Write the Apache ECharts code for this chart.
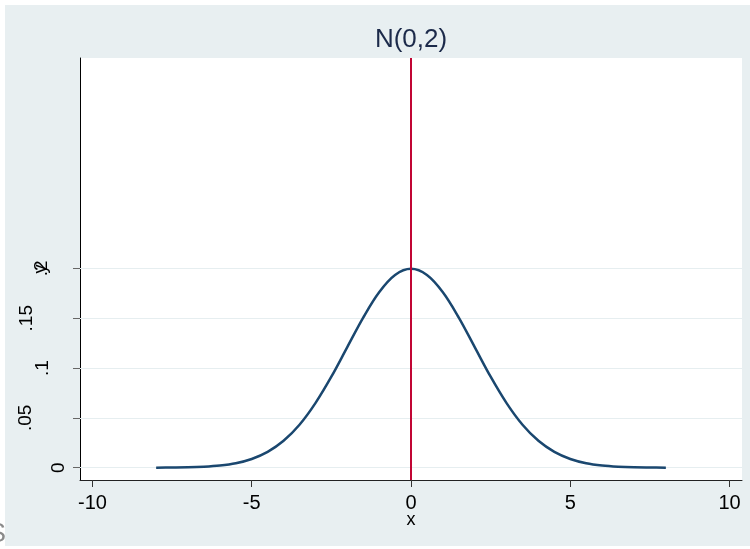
<!DOCTYPE html>
<html><head><meta charset="utf-8">
<style>html,body{margin:0;padding:0;background:#fff;}#c{width:750px;height:549px;}</style>
<script src="https://cdn.jsdelivr.net/npm/echarts@6.0.0/dist/echarts.min.js"></script>
</head><body><div id="c"></div>
<script>
// ---- data ----
const xValues = [-8,-7.5,-7,-6.5,-6,-5.5,-5,-4.5,-4,-3.5,-3,-2.5,-2,-1.5,-1,-0.5,0,0.5,1,1.5,2,2.5,3,3.5,4,4.5,5,5.5,6,6.5,7,7.5,8];
const densityValues = [0.0001,0.0002,0.0004,0.0010,0.0022,0.0045,0.0088,0.0159,0.0270,0.0431,0.0648,0.0913,0.1210,0.1506,0.1760,0.1933,0.1995,0.1933,0.1760,0.1506,0.1210,0.0913,0.0648,0.0431,0.0270,0.0159,0.0088,0.0045,0.0022,0.0010,0.0004,0.0002,0.0001];
const xTickValues = [-10,-5,0,5,10];
const xTickLabels = ['-10','-5','0','5','10'];
const yTickValues = [0,0.05,0.1,0.15,0.2];
const yTickLabels = ['0','.05','.1','.15','.2'];
const refLineX = [0];
const titleText = 'N(0,2)';
const xTitle = 'x';
const yTitle = 'y';

// ---- layout / style ----
const FONT = '"Liberation Sans", Arial, sans-serif';
const BG = '#e8eff1';
const yLabelCenterX = [58.5, 25.5, 43, 26.5, 41.5];

const chart = echarts.init(document.getElementById('c'), null, {renderer: 'canvas'});
const pairs = xValues.map((x, i) => [x, densityValues[i]]);

const option = {
  animation: false,
  backgroundColor: BG,
  grid: {left: 80, top: 58, right: 8, bottom: 69, show: true, backgroundColor: '#ffffff', borderWidth: 0, outerBoundsMode: 'none', containLabel: false},
  xAxis: {
    type: 'value', min: -10.39, max: 10.39,
    axisLine: {show: true, onZero: false, lineStyle: {color: '#222', width: 1}},
    axisTick: {show: true, length: 7, customValues: xTickValues, lineStyle: {color: '#333', width: 1}},
    axisLabel: {show: true, customValues: xTickValues, margin: 13, fontSize: 20, fontFamily: FONT, color: '#000',
      formatter: v => xTickLabels[xTickValues.indexOf(v)] ?? ''},
    splitLine: {show: false}
  },
  yAxis: {
    type: 'value', min: -0.0123, max: 0.411,
    axisLine: {show: true, onZero: false, lineStyle: {color: '#000', width: 1}},
    axisTick: {show: true, length: 7, customValues: yTickValues, lineStyle: {color: '#666', width: 1}},
    axisLabel: {show: false},
    splitLine: {show: false}
  },
  series: [
    {
      type: 'line', data: [], z: 1, silent: true,
      markLine: {z: 1, silent: true, symbol: ['none','none'], label: {show: false}, animation: false,
        lineStyle: {color: '#e6eef0', width: 1, type: 'solid'},
        data: yTickValues.map(v => ({yAxis: v}))}
    },
    {
      type: 'line', data: pairs, z: 3, smooth: 0.35, showSymbol: false, silent: true,
      lineStyle: {color: '#1a476f', width: 2.5}
    },
    {
      type: 'line', data: [], z: 4, silent: true,
      markLine: {z: 6, silent: true, symbol: ['none','none'], label: {show: false}, animation: false,
        lineStyle: {color: '#c10534', width: 2, type: 'solid'},
        data: refLineX.map(v => ({xAxis: v}))}
    }
  ],
  graphic: [
    {type: 'rect', id: 'wTop', shape: {x: 0, y: 0, width: 750, height: 5}, style: {fill: '#fff'}, silent: true},
    {type: 'rect', id: 'wLeft', shape: {x: 0, y: 0, width: 5, height: 549}, style: {fill: '#fff'}, silent: true},
    {type: 'rect', id: 'wBot', shape: {x: 0, y: 546, width: 750, height: 3}, style: {fill: '#fff'}, silent: true},
    {type: 'text', id: 'stray', x: -3, y: 535, z: 10, style: {text: 'S', fontSize: 27, fontFamily: FONT, fill: '#8a8a8a', align: 'center', verticalAlign: 'middle'}},
    {type: 'text', id: 'title', x: 411, y: 40, style: {text: titleText, fontSize: 26, fontFamily: FONT, fill: '#1c2a4a', align: 'center', verticalAlign: 'middle'}},
    {type: 'text', id: 'xtitle', x: 411, y: 520, style: {text: xTitle, fontSize: 18, fontFamily: FONT, fill: '#000', align: 'center', verticalAlign: 'middle'}}
  ]
};
chart.setOption(option);

const extra = [];
yTickValues.forEach((v, i) => {
  const py = chart.convertToPixel({yAxisIndex: 0}, v);
  extra.push({type: 'text', id: 'yl' + i, x: yLabelCenterX[i], y: py, rotation: Math.PI / 2, z: 5,
    style: {text: yTickLabels[i], fontSize: 19, fontFamily: FONT, fill: '#000', align: 'center', verticalAlign: 'middle'}});
});
const midY = (chart.convertToPixel({yAxisIndex: 0}, -0.0123) + chart.convertToPixel({yAxisIndex: 0}, 0.411)) / 2;
extra.push({type: 'text', id: 'ytitle', x: 41.5, y: midY, rotation: Math.PI / 2, z: 5,
  style: {text: yTitle, fontSize: 18, fontFamily: FONT, fill: '#000', align: 'center', verticalAlign: 'middle'}});
chart.setOption({graphic: extra});
</script></body></html>
